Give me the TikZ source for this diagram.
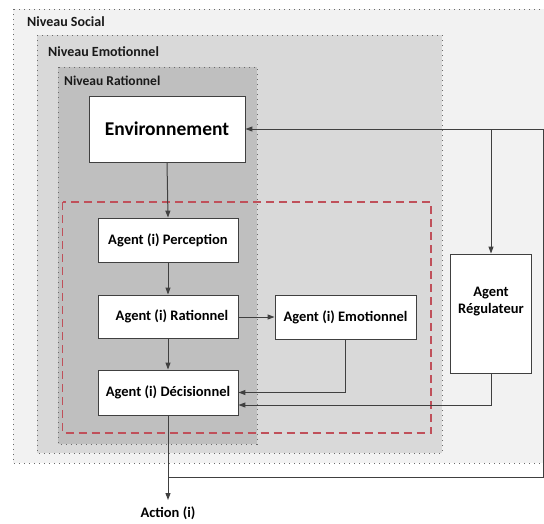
\documentclass[tikz,border=0pt]{standalone}
\usepackage{fontspec}
\setmainfont{Carlito}
\usetikzlibrary{arrows.meta}
\definecolor{socfill}{HTML}{F2F2F2}
\definecolor{emofill}{HTML}{D9D9D9}
\definecolor{ratfill}{HTML}{BFBFBF}
\definecolor{dotc}{HTML}{6A6A6A}
\definecolor{redd}{HTML}{C0505A}
\definecolor{linec}{HTML}{404040}
\tikzset{
  levelbox/.style={draw=dotc, line width=0.9pt, dash pattern=on 1.1pt off 3.9pt},
  levellabel/.style={anchor=west, font=\bfseries\fontsize{14}{16}\selectfont, text=black!90, inner sep=0pt},
  agentbox/.style={draw=linec, fill=white, line width=0.9pt, minimum width=140pt, minimum height=44pt, inner sep=0pt, font=\bfseries\fontsize{14.5}{17}\selectfont, align=center},
  arr/.style={draw=linec, line width=1pt, -{Triangle[length=7pt,width=5pt]}},
}
\begin{document}
\begin{tikzpicture}[x=1pt,y=-1pt]
\useasboundingbox (0,0) rectangle (544,523);
\clip (0,0) rectangle (544,523);
\fill[white] (0,0) rectangle (544,523);
% levels
\filldraw[fill=socfill, levelbox] (13,9) rectangle (560,463);
\node[levellabel] (lsoc) at (27,22) {Niveau Social};
\filldraw[fill=emofill, levelbox] (37,35) rectangle (442,453);
\node[levellabel] (lemo) at (48,52) {Niveau Emotionnel};
\filldraw[fill=ratfill, levelbox] (58,67) rectangle (257,444);
\node[levellabel, font=\bfseries\fontsize{13.5}{16}\selectfont] (lrat) at (64,81) {Niveau Rationnel};
% red dashed
\draw[redd, line width=1.1pt, dash pattern=on 8pt off 5pt] (62.5,202) rectangle (431,433);
% nodes
\node[agentbox, minimum width=156pt, minimum height=66pt, font=\bfseries\fontsize{19.5}{22}\selectfont] (env) at (167,129) {Environnement};
\node[agentbox] (perc) at (168,240) {Agent (i) Perception};
\node[agentbox, minimum height=43pt] (rat) at (168,316.5) {\hspace{8pt}Agent (i) Rationnel};
\node[agentbox, minimum height=45pt] (dec) at (168,392.5) {Agent (i) Décisionnel};
\node[agentbox, minimum width=141pt] (emo) at (345.5,317) {Agent (i) Emotionnel};
\node[agentbox, minimum width=81pt, minimum height=119pt] (reg) at (491,313.5) {};
\node[font=\bfseries\fontsize{14.5}{17.5}\selectfont, align=center, inner sep=0pt] (regtxt) at (491,301.5) {Agent\\Régulateur};
\node[font=\bfseries\fontsize{14.5}{16}\selectfont, inner sep=0pt] (action) at (168,513.5) {Action (i)};
% connectors
\coordinate (split) at (168,477);
\coordinate (fbr) at (543,477);
\coordinate (br) at (491,129);
\coordinate (acttip) at (168,500);
\draw[arr] (env.south) -- (perc.north);
\draw[arr] (perc.south) -- (rat.north);
\draw[arr] (rat.south) -- (dec.north);
\draw[arr] (rat.east |- emo.west) -- (emo.west);
\draw[arr] (emo.south) |- (dec.east);
\draw[arr] (reg.south) |- ([yshift=-12.5pt]dec.east);
\draw[arr] (dec.south) -- (acttip);
\draw[arr] (split) -- (fbr) |- (env.east);
\draw[arr] (br) -- (reg.north);
\end{tikzpicture}
\end{document}
